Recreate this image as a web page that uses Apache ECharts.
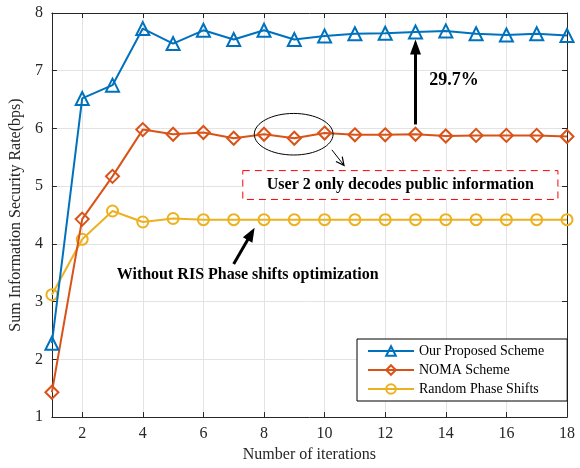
<!DOCTYPE html>
<html><head><meta charset="utf-8">
<script src="https://cdn.jsdelivr.net/npm/echarts@6/dist/echarts.min.js"></script>
<style>html,body{margin:0;padding:0;background:#fff}#c{width:580px;height:468px}</style>
</head><body><div id="c"></div>
<script>
const iterations = [1,2,3,4,5,6,7,8,9,10,11,12,13,14,15,16,17,18];
const proposed = [2.28,6.52,6.75,7.73,7.47,7.70,7.54,7.70,7.54,7.60,7.64,7.65,7.67,7.69,7.64,7.62,7.64,7.61];
const noma = [1.43,4.43,5.17,5.98,5.90,5.93,5.83,5.90,5.83,5.92,5.89,5.89,5.90,5.87,5.88,5.88,5.88,5.86];
const randomPhase = [3.12,4.08,4.57,4.38,4.44,4.42,4.42,4.42,4.42,4.42,4.42,4.42,4.42,4.42,4.42,4.42,4.42,4.42];
const xTicks = [2,4,6,8,10,12,14,16,18];
const seriesNames = ['Our Proposed Scheme','NOMA Scheme','Random Phase Shifts'];
const annotationTexts = ['29.7%','User 2 only decodes public information','Without RIS Phase shifts optimization'];

const FONT = '"Liberation Serif", "Times New Roman", serif';
const AX = '#262626';
const GRID = '#e3e3e3';
const colors = ['#0072BD','#D95319','#EDB120'];

function pairs(ys){ return iterations.map((x,i)=>[x,ys[i]]); }

const chart = echarts.init(document.getElementById('c'), null, {renderer:'canvas'});

function xAxisCfg(show){
  return {
    type:'value', min:1, max:18,
    position: show ? 'bottom' : 'top',
    name: show ? 'Number of iterations' : '',
    nameLocation:'middle', nameGap:28,
    nameTextStyle:{fontFamily:FONT, fontSize:16, color:AX},
    axisLine:{show:true, onZero:false, lineStyle:{color:AX, width:1}},
    axisTick:{show:true, inside:true, length:5, customValues:xTicks, lineStyle:{color:AX}},
    axisLabel:{show:show, customValues:xTicks, margin:9, fontFamily:FONT, fontSize:16, color:AX},
    splitLine:{show:show, lineStyle:{color:GRID, width:1}}
  };
}
function yAxisCfg(show){
  return {
    type:'value', min:1, max:8, interval:1,
    position: show ? 'left' : 'right',
    name: show ? 'Sum Information Security Rate(bps)' : '',
    nameLocation:'middle', nameGap:22,
    nameTextStyle:{fontFamily:FONT, fontSize:16, color:AX},
    axisLine:{show:true, onZero:false, lineStyle:{color:AX, width:1}},
    axisTick:{show:true, inside:true, length:5, lineStyle:{color:AX}},
    axisLabel:{show:show, margin:9, fontFamily:FONT, fontSize:16, color:AX},
    splitLine:{show:show, lineStyle:{color:GRID, width:1}}
  };
}

const symbols = ['triangle','diamond','circle'];
const symSizes = [13,13,11];
const dataSets = [proposed, noma, randomPhase];

const series = dataSets.map((d,i)=>({
  name: seriesNames[i], type:'line', data: pairs(d),
  xAxisIndex:0, yAxisIndex:0,
  symbol: symbols[i], symbolSize: symSizes[i], showAllSymbol:true,
  lineStyle:{color:colors[i], width:2},
  itemStyle:{color:'rgba(255,255,255,0)', borderColor:colors[i], borderWidth:2},
  emphasis:{disabled:true},
  z: 3 - i,
  animation:false
}));

chart.setOption({
  animation:false,
  backgroundColor:'#fff',
  grid:{left:48, right:13, top:13, bottom:45, containLabel:false},
  xAxis:[xAxisCfg(true), xAxisCfg(false)],
  yAxis:[yAxisCfg(true), yAxisCfg(false)],
  legend:{
    data: seriesNames, orient:'vertical', left:357, top:339,
    backgroundColor:'#fff', borderColor:'#000', borderWidth:1,
    padding:[5,23,5,10], itemGap:5, itemWidth:46, itemHeight:12,
    textStyle:{fontFamily:FONT, fontSize:14, color:'#000'},
    selectedMode:false
  },
  series: series
});

// annotation anchors in data coordinates
const arrowUp = {from:[13,6.07], to:[13,7.54]};
const arrowYellow = {from:[7.0,3.65], to:[7.69,4.28]};
const ellipseAnchor = {center:[8.98,5.90], rx:[1.3], ry:[0.36]};
const smallArrow = {from:[10.24,5.63], to:[10.64,5.36]};
const boxAnchor = {tl:[7.30,5.27], br:[17.70,4.77]};
const labelUp = [13.45,6.84];
const labelYellow = [3.14,3.46];

function P(p){ return chart.convertToPixel({gridIndex:0}, p); }

function filledArrow(a, b, shaftW, headL, headW){
  const dx=b[0]-a[0], dy=b[1]-a[1], L=Math.hypot(dx,dy);
  const ux=dx/L, uy=dy/L, nx=-uy, ny=ux;
  const base=[b[0]-ux*headL, b[1]-uy*headL];
  return [
    {type:'line', shape:{x1:a[0],y1:a[1],x2:base[0]+ux*1,y2:base[1]+uy*1}, style:{stroke:'#000', lineWidth:shaftW}, z:50},
    {type:'polygon', shape:{points:[b,[base[0]+nx*headW/2, base[1]+ny*headW/2],[base[0]-nx*headW/2, base[1]-ny*headW/2]]}, style:{fill:'#000'}, z:50}
  ];
}
function openArrow(a, b, headL, headW){
  const dx=b[0]-a[0], dy=b[1]-a[1], L=Math.hypot(dx,dy);
  const ux=dx/L, uy=dy/L, nx=-uy, ny=ux;
  const base=[b[0]-ux*headL, b[1]-uy*headL];
  return [
    {type:'line', shape:{x1:a[0],y1:a[1],x2:b[0],y2:b[1]}, style:{stroke:'#000', lineWidth:1}, z:50},
    {type:'polyline', shape:{points:[[base[0]+nx*headW/2, base[1]+ny*headW/2], b, [base[0]-nx*headW/2, base[1]-ny*headW/2]]}, style:{stroke:'#000', lineWidth:1.2, fill:null}, z:50}
  ];
}

const c = P(ellipseAnchor.center);
const ex = P([ellipseAnchor.center[0]+ellipseAnchor.rx[0], ellipseAnchor.center[1]]);
const ey = P([ellipseAnchor.center[0], ellipseAnchor.center[1]+ellipseAnchor.ry[0]]);
const tl = P(boxAnchor.tl), br = P(boxAnchor.br);
const lu = P(labelUp), ly = P(labelYellow);

const graphics = [].concat(
  filledArrow(P(arrowUp.from), P(arrowUp.to), 3, 15, 11),
  filledArrow(P(arrowYellow.from), P(arrowYellow.to), 3, 14, 11),
  openArrow(P(smallArrow.from), P(smallArrow.to), 8, 8),
  [
    {type:'ellipse', shape:{cx:c[0], cy:c[1], rx:Math.abs(ex[0]-c[0]), ry:Math.abs(ey[1]-c[1])}, style:{fill:null, stroke:'#000', lineWidth:1}, z:50},
    {type:'rect', shape:{x:tl[0], y:tl[1], width:br[0]-tl[0], height:br[1]-tl[1]}, style:{fill:'#fff', stroke:'#ff0000', lineWidth:1, lineDash:[7,5]}, z:49},
    {type:'text', x:(tl[0]+br[0])/2, y:(tl[1]+br[1])/2, style:{text:annotationTexts[1], font:'bold 16px '+FONT, fill:'#000', align:'center', verticalAlign:'middle'}, z:51},
    {type:'text', x:lu[0], y:lu[1], style:{text:annotationTexts[0], font:'bold 18px '+FONT, fill:'#000', align:'left', verticalAlign:'middle'}, z:51},
    {type:'text', x:ly[0], y:ly[1], style:{text:annotationTexts[2], font:'bold 16px '+FONT, fill:'#000', align:'left', verticalAlign:'middle'}, z:51}
  ]
);
chart.setOption({graphic: graphics});
</script>
</body></html>
